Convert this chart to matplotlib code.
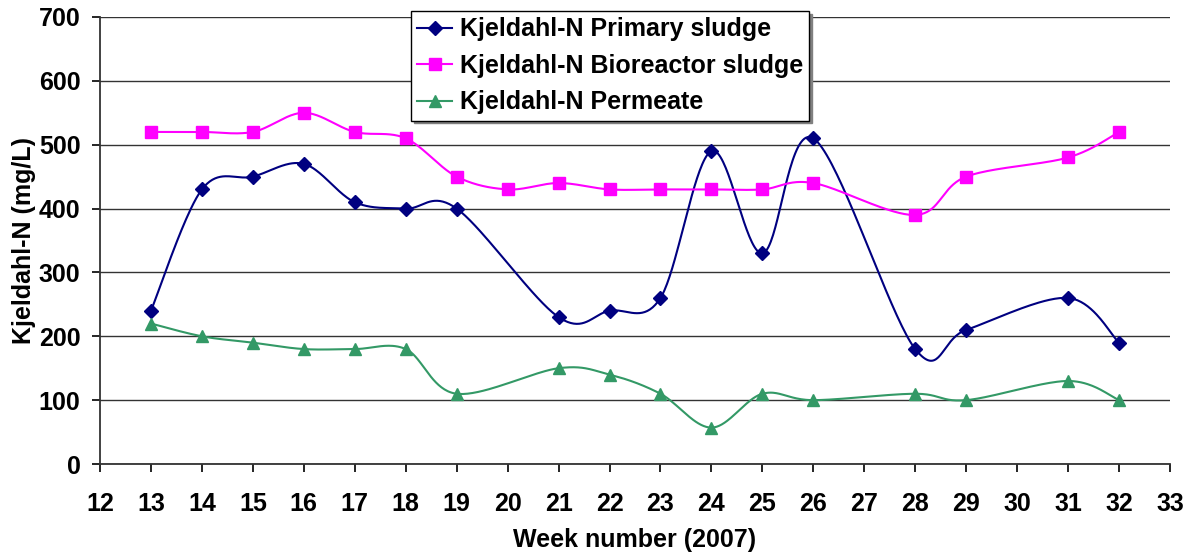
import numpy as np
import matplotlib
matplotlib.use("Agg")
import matplotlib.pyplot as plt
from matplotlib.lines import Line2D

plt.rcParams['font.family'] = ['Liberation Sans', 'DejaVu Sans']
plt.rcParams['font.weight'] = 'bold'

primary_weeks = [13, 14, 15, 16, 17, 18, 19, 21, 22, 23, 24, 25, 26, 28, 29, 31, 32]
primary_vals = [240, 430, 450, 470, 410, 400, 400, 230, 240, 260, 490, 330, 510, 180, 210, 260, 190]

bio_weeks = [13, 14, 15, 16, 17, 18, 19, 20, 21, 22, 23, 24, 25, 26, 28, 29, 31, 32]
bio_vals = [520, 520, 520, 550, 520, 510, 450, 430, 440, 430, 430, 430, 430, 440, 390, 450, 480, 520]

perm_weeks = [13, 14, 15, 16, 17, 18, 19, 21, 22, 23, 24, 25, 26, 28, 29, 31, 32]
perm_vals = [220, 200, 190, 180, 180, 180, 110, 150, 140, 110, 57, 110, 100, 110, 100, 130, 100]

x_ticks = list(range(12, 34))
y_ticks = list(range(0, 701, 100))


def excel_smooth(xs, ys, n=40):
    xs = np.asarray(xs, float)
    ys = np.asarray(ys, float)
    px, py = [], []
    m = len(xs)
    for i in range(m - 1):
        i0 = max(i - 1, 0)
        i3 = min(i + 2, m - 1)
        p0 = np.array([xs[i], ys[i]])
        p3 = np.array([xs[i + 1], ys[i + 1]])
        c1 = p0 + (p3 - np.array([xs[i0], ys[i0]])) / 6.0
        c2 = p3 - (np.array([xs[i3], ys[i3]]) - p0) / 6.0
        t = np.linspace(0, 1, n)
        b = ((1 - t) ** 3)[:, None] * p0 + (3 * (1 - t) ** 2 * t)[:, None] * c1 + \
            (3 * (1 - t) * t ** 2)[:, None] * c2 + (t ** 3)[:, None] * p3
        px.extend(b[:, 0])
        py.extend(b[:, 1])
    return np.array(px), np.array(py)


FS = 18
fig = plt.figure(figsize=(11.97, 5.54), dpi=100)
ax = fig.add_axes([100 / 1197, 90 / 554, 1070 / 1197, 447 / 554])

series = [
    (primary_weeks, primary_vals, '#000080', 'D', 7, 'Kjeldahl-N Primary sludge'),
    (bio_weeks, bio_vals, '#FF00FF', 's', 8, 'Kjeldahl-N Bioreactor sludge'),
    (perm_weeks, perm_vals, '#339966', '^', 8, 'Kjeldahl-N Permeate'),
]
handles = []
for xs, ys, col, mk, ms, lab in series:
    sx, sy = excel_smooth(xs, ys)
    ax.plot(sx, sy, color=col, lw=1.5, zorder=3)
    ax.plot(xs, ys, linestyle='none', marker=mk, markersize=ms, color=col, zorder=4)
    handles.append(Line2D([0], [0], color=col, lw=1.5, marker=mk, markersize=ms, label=lab))

ax.set_xlim(12, 33)
ax.set_ylim(0, 700)
ax.set_xticks(x_ticks)
ax.set_yticks(y_ticks)
ax.tick_params(axis='both', labelsize=FS, length=6, width=1.2, direction='out')
for lbl in ax.get_xticklabels() + ax.get_yticklabels():
    lbl.set_fontweight('bold')
ax.tick_params(axis='x', pad=14)
ax.tick_params(axis='y', pad=8)
ax.grid(axis='y', color='#333333', lw=1.0)
ax.set_axisbelow(True)
for s in ['right', 'top']:
    ax.spines[s].set_visible(False)
for s in ['left', 'bottom']:
    ax.spines[s].set_linewidth(1.3)
    ax.spines[s].set_color('#333333')

ax.set_xlabel('Week number (2007)', fontsize=FS, fontweight='bold', labelpad=9)
ax.set_ylabel('Kjeldahl-N (mg/L)', fontsize=FS, fontweight='bold', labelpad=2)

leg = fig.legend(handles=handles, loc='upper left', bbox_to_anchor=(411 / 1197, 1 - 11 / 554),
                 frameon=True, fancybox=False, shadow={'color': '#808080', 'alpha': 1},
                 edgecolor='black', framealpha=1, borderpad=0.25, labelspacing=0.5,
                 handlelength=1.4, handletextpad=0.3, borderaxespad=0,
                 prop={'weight': 'bold', 'size': FS})
leg.get_frame().set_linewidth(1.0)

fig.savefig('out.png', dpi=100)
